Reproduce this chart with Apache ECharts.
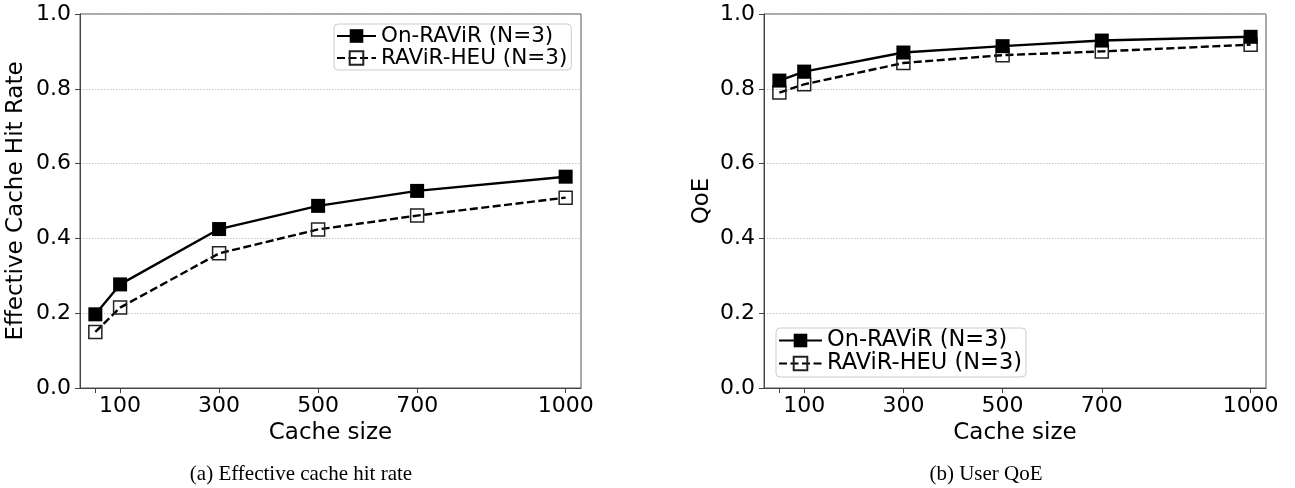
<!DOCTYPE html>
<html>
<head>
<meta charset="utf-8">
<title>Cache size vs hit rate and QoE</title>
<script src="https://cdn.jsdelivr.net/npm/echarts@6/dist/echarts.min.js"></script>
<style>
  html, body { margin: 0; padding: 0; background: #fff; }
  #chart { width: 1295px; height: 488px; }
</style>
</head>
<body>
<div id="chart"></div>
<script>
// Cache sizes evaluated
const cacheSizes = [50, 100, 300, 500, 700, 1000];
const xTickLabels = [100, 300, 500, 700, 1000];

// (a) Effective cache hit rate
const hitOnRavir = [0.197, 0.277, 0.425, 0.487, 0.527, 0.565];
const hitRavirHeu = [0.150, 0.215, 0.360, 0.424, 0.461, 0.509];

// (b) User QoE
const qoeOnRavir = [0.822, 0.846, 0.897, 0.914, 0.929, 0.939];
const qoeRavirHeu = [0.790, 0.812, 0.869, 0.890, 0.900, 0.918];

const seriesNames = ['On-RAViR (N=3)', 'RAViR-HEU (N=3)'];
const captions = ['(a) Effective cache hit rate', '(b) User QoE'];
const yNames = ['Effective Cache Hit Rate', 'QoE'];

const FONT = 'DejaVu Sans';
const pairs = (ys) => cacheSizes.map((x, i) => [x, ys[i]]);

function xAxis(gridIndex) {
  return {
    type: 'value', gridIndex, min: 19, max: 1031,
    name: 'Cache size', nameLocation: 'middle', nameGap: 32,
    nameTextStyle: { fontFamily: FONT, fontSize: 23, color: '#000' },
    axisLine: { show: true, lineStyle: { color: '#444', width: 1 } },
    axisTick: { show: true, length: 5, customValues: cacheSizes, lineStyle: { color: '#444' } },
    axisLabel: { customValues: xTickLabels, margin: 7, fontFamily: FONT, fontSize: 22, color: '#000',
      formatter: (v) => String(v) },
    splitLine: { show: false }
  };
}

function yAxis(gridIndex, name, gap) {
  return {
    type: 'value', gridIndex, min: 0, max: 1, interval: 0.2,
    name, nameLocation: 'middle', nameGap: gap, nameRotate: 90,
    nameTextStyle: { fontFamily: FONT, fontSize: 23, color: '#000' },
    axisLine: { show: true, lineStyle: { color: '#444', width: 1 } },
    axisTick: { show: true, length: 5, lineStyle: { color: '#444' } },
    axisLabel: { margin: 9, fontFamily: FONT, fontSize: 22, color: '#000',
      formatter: (v) => v.toFixed(1) },
    splitLine: { show: true, lineStyle: { color: '#b5b5b5', type: [1.5, 1.5], width: 0.8 } }
  };
}

function solidSeries(idx, ys) {
  return {
    name: seriesNames[0], type: 'line', xAxisIndex: idx, yAxisIndex: idx,
    data: pairs(ys), symbol: 'rect', symbolSize: 14, z: 3,
    lineStyle: { color: '#000', width: 2.4, type: 'solid' },
    itemStyle: { color: '#000', borderColor: '#000', borderWidth: 0 },
    emphasis: { disabled: true }, silent: true
  };
}

function dashedSeries(idx, ys) {
  return {
    name: seriesNames[1], type: 'line', xAxisIndex: idx, yAxisIndex: idx,
    data: pairs(ys), symbol: 'rect', symbolSize: 13, z: 2,
    lineStyle: { color: '#000', width: 2.4, type: [8, 3.5] },
    itemStyle: { color: 'rgba(255,255,255,0)', borderColor: '#222', borderWidth: 1.5 },
    emphasis: { disabled: true }, silent: true
  };
}

function legend(left, top, fontSize, itemWidth, itemGap, padding) {
  return {
    orient: 'vertical', left, top, itemWidth, itemHeight: 17, itemGap, padding,
    data: seriesNames, selectedMode: false,
    backgroundColor: 'rgba(255,255,255,0.8)', borderColor: '#cccccc', borderWidth: 1, borderRadius: 4,
    textStyle: { fontFamily: FONT, fontSize, color: '#000', padding: [0, 0, 0, 0] }
  };
}

const chart = echarts.init(document.getElementById('chart'), null, { renderer: 'canvas' });
chart.setOption({
  animation: false,
  backgroundColor: '#fff',
  grid: [
    { left: 80, top: 14, width: 501, height: 374, show: true, borderColor: '#555', borderWidth: 1, backgroundColor: 'transparent' },
    { left: 764, top: 14, width: 502, height: 374, show: true, borderColor: '#555', borderWidth: 1, backgroundColor: 'transparent' }
  ],
  xAxis: [xAxis(0), xAxis(1)],
  yAxis: [yAxis(0, yNames[0], 52), yAxis(1, yNames[1], 50)],
  legend: [
    legend(334, 24, 21.5, 39, 0, [1, 4, 1, 2]),
    legend(776, 328, 22.5, 43, 0, [1, 4, 2, 2])
  ],
  series: [
    solidSeries(0, hitOnRavir), dashedSeries(0, hitRavirHeu),
    solidSeries(1, qoeOnRavir), dashedSeries(1, qoeRavirHeu)
  ],
  graphic: [
    { type: 'text', x: 301, y: 474, style: { text: captions[0], fontFamily: 'Liberation Serif', fontSize: 21, fill: '#000', align: 'center', verticalAlign: 'middle' } },
    { type: 'text', x: 986, y: 474, style: { text: captions[1], fontFamily: 'Liberation Serif', fontSize: 21, fill: '#000', align: 'center', verticalAlign: 'middle' } }
  ]
});
</script>
</body>
</html>
